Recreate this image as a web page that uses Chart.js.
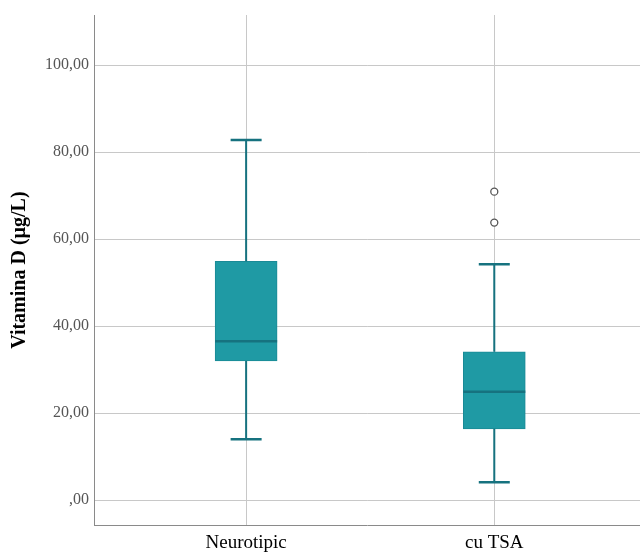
<!DOCTYPE html>
<html>
<head>
<meta charset="utf-8">
<script src="https://cdn.jsdelivr.net/npm/chart.js@4/dist/chart.umd.min.js"></script>
<style>
  html, body { margin: 0; padding: 0; background: #ffffff; overflow: hidden; }
  /* slightly wider than the window so the plot area runs to the right edge */
  #wrap { width: 646px; height: 554px; position: relative; }
  #chart { display: block; }
</style>
</head>
<body>
<div id="wrap"><canvas id="chart"></canvas></div>
<script>
// Vitamin D levels by group (µg/L), five-number summaries plus outliers
const categories = ['Neurotipic', 'cu TSA'];
const whiskerLow  = [14.0, 4.1];
const quartile1   = [32.0, 16.4];
const medians     = [36.5, 24.9];
const quartile3   = [54.9, 34.1];
const whiskerHigh = [82.8, 54.2];
const outliers    = [[], [63.8, 70.9]];
const yTickValues = [0, 20, 40, 60, 80, 100];
const yTickLabels = [',00', '20,00', '40,00', '60,00', '80,00', '100,00'];

const boxFill = '#1f9aa4';
const boxLine = '#16727f';

const boxData = categories.map((c, i) => ({ x: i, y: [quartile1[i], quartile3[i]] }));
const outlierData = [];
outliers.forEach((list, i) => list.forEach(v => outlierData.push({ x: i, y: v })));

// whiskers, caps and median lines drawn from the summary arrays via the chart scales
const boxWhiskers = {
  id: 'boxWhiskers',
  afterDatasetsDraw(chart) {
    const { ctx, scales: { x, y } } = chart;
    const meta = chart.getDatasetMeta(0);
    ctx.save();
    ctx.strokeStyle = boxLine;
    ctx.lineCap = 'butt';
    categories.forEach((c, i) => {
      const cx = x.getPixelForValue(i);
      const bar = meta.data[i];
      const half = bar.width / 2;
      const capHalf = half / 2;
      ctx.lineWidth = 2;
      ctx.beginPath();
      ctx.moveTo(cx, y.getPixelForValue(quartile3[i]));
      ctx.lineTo(cx, y.getPixelForValue(whiskerHigh[i]));
      ctx.moveTo(cx, y.getPixelForValue(quartile1[i]));
      ctx.lineTo(cx, y.getPixelForValue(whiskerLow[i]));
      ctx.stroke();
      ctx.lineWidth = 2.5;
      ctx.beginPath();
      [whiskerHigh[i], whiskerLow[i]].forEach(v => {
        const py = y.getPixelForValue(v);
        ctx.moveTo(cx - capHalf, py);
        ctx.lineTo(cx + capHalf, py);
      });
      const my = y.getPixelForValue(medians[i]);
      ctx.moveTo(cx - half, my);
      ctx.lineTo(cx + half, my);
      ctx.stroke();
    });
    ctx.restore();
  }
};

new Chart(document.getElementById('chart'), {
  data: {
    datasets: [
      {
        type: 'bar',
        data: boxData,
        backgroundColor: boxFill,
        borderColor: '#1a8a96',
        borderWidth: 1,
        borderSkipped: false,
        barThickness: 62,
        order: 2
      },
      {
        type: 'scatter',
        data: outlierData,
        pointStyle: 'circle',
        pointRadius: 3.5,
        pointBackgroundColor: '#ffffff',
        pointBorderColor: '#555555',
        pointBorderWidth: 1.3,
        order: 1
      }
    ]
  },
  options: {
    responsive: true,
    maintainAspectRatio: false,
    animation: false,
    layout: { padding: { top: 15, right: 0, left: 8, bottom: -6 } },
    plugins: { legend: { display: false }, tooltip: { enabled: false } },
    scales: {
      x: {
        type: 'linear',
        offset: false,
        min: -0.613,
        max: 1.59,
        afterBuildTicks(scale) { scale.ticks = categories.map((c, i) => ({ value: i })); },
        ticks: {
          callback: (v) => categories[v] !== undefined ? categories[v] : '',
          color: '#000000',
          font: { family: '"Liberation Serif", "Times New Roman", serif', size: 19 },
          padding: 6,
          maxRotation: 0
        },
        grid: { color: '#c8c8c8', lineWidth: 1, drawTicks: false, offset: false },
        border: { color: '#8a8a8a', width: 1 }
      },
      y: {
        type: 'linear',
        min: -5.75,
        max: 111.5,
        afterBuildTicks(scale) { scale.ticks = yTickValues.map(v => ({ value: v })); },
        ticks: {
          callback: (v) => yTickLabels[yTickValues.indexOf(v)],
          color: '#555555',
          font: { family: '"Liberation Serif", "Times New Roman", serif', size: 16 },
          padding: 5
        },
        grid: { color: '#c8c8c8', lineWidth: 1, drawTicks: false },
        border: { color: '#8a8a8a', width: 1 },
        title: {
          display: true,
          text: 'Vitamina D (µg/L)',
          color: '#000000',
          font: { family: '"Liberation Serif", "Times New Roman", serif', size: 20, weight: 'bold' },
          padding: { top: 0, bottom: 8 }
        }
      }
    }
  },
  plugins: [boxWhiskers]
});
</script>
</body>
</html>
